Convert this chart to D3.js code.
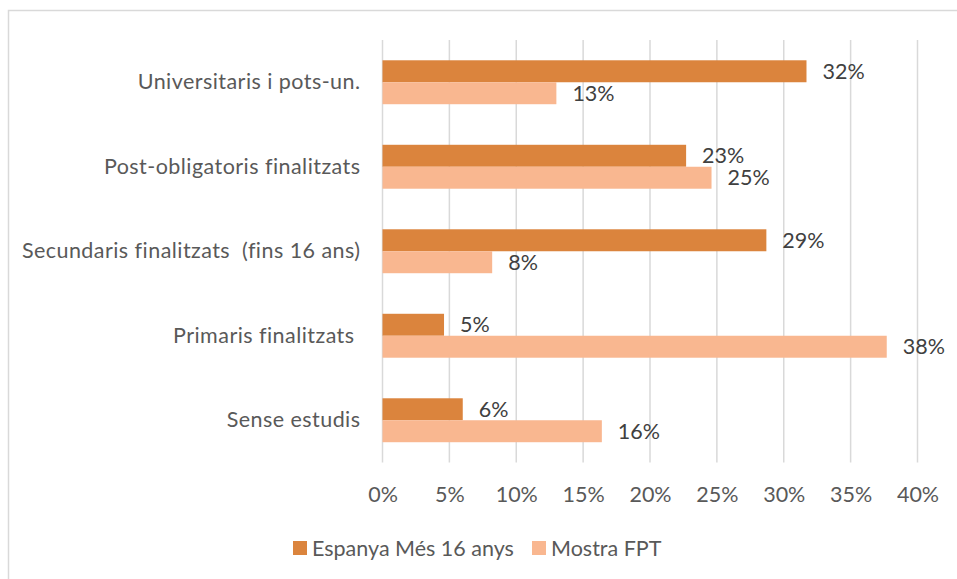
<!DOCTYPE html>
<html lang="ca">
<head>
    <meta charset="UTF-8">
    <title>Nivell d'estudis</title>
    <style type="text/css">
        body { margin: 0; background: #fff; }
        text { font-family: Lato, "Open Sans", sans-serif; white-space: pre; }
    </style>
</head>
<body>

<svg width="957" height="579"></svg>

<script src="https://d3js.org/d3.v7.min.js"></script>

<script>
    // categories, top to bottom
    var categories = ["Universitaris i pots-un.", "Post-obligatoris finalitzats",
        "Secundaris finalitzats  (fins 16 ans)", "Primaris finalitzats ", "Sense estudis"];
    var seriesNames = ["Espanya Més 16 anys", "Mostra FPT"];
    var espanya = [31.7, 22.7, 28.7, 4.6, 6.0];
    var mostra = [13.0, 24.6, 8.2, 37.7, 16.4];
    var ticks = [0, 5, 10, 15, 20, 25, 30, 35, 40];
    var colors = ["#DB843D", "#F9B790"];

    var fontSize = 21.5;

    var svg = d3.select("svg"),
        margin = {top: 40, left: 382.5, right: 39.5, bottom: 116.5},
        width = 957 - margin.left - margin.right,
        height = 579 - margin.top - margin.bottom;

    // chart border (only left/top visible in the frame)
    svg.append("rect")
        .attr("x", 8.5).attr("y", 10.5)
        .attr("width", 1000).attr("height", 1000)
        .attr("fill", "none").attr("stroke", "#D9D9D9").attr("stroke-width", 1.5);

    var g = svg.append("g").attr("transform", "translate(" + margin.left + "," + margin.top + ")");

    var x = d3.scaleLinear().domain([0, 40]).range([0, width]);
    var y = d3.scaleBand().domain(categories).range([0, height])
        .paddingInner(0.48).paddingOuter(0.24);
    var ySub = d3.scaleBand().domain([0, 1]).range([0, y.bandwidth()]);

    // gridlines
    g.selectAll(".grid")
        .data(ticks)
        .enter().append("line")
        .attr("x1", function (d) { return x(d); })
        .attr("x2", function (d) { return x(d); })
        .attr("y1", 0).attr("y2", height)
        .attr("stroke", "#D9D9D9").attr("stroke-width", 1.5);

    // x tick labels
    g.append("g")
        .attr("transform", "translate(0," + height + ")")
        .call(d3.axisBottom(x).tickValues(ticks).tickSize(0).tickPadding(24)
            .tickFormat(function (d) { return d + "%"; }))
        .call(function (a) { a.select(".domain").remove(); })
        .selectAll("text")
        .attr("font-family", "Lato, sans-serif")
        .attr("font-size", fontSize).attr("fill", "#595959");

    // category labels
    g.append("g")
        .call(d3.axisLeft(y).tickSize(0).tickPadding(22))
        .call(function (a) { a.select(".domain").remove(); })
        .selectAll("text")
        .attr("font-family", "Lato, sans-serif")
        .attr("letter-spacing", "0.45px")
        .attr("font-size", fontSize).attr("fill", "#595959");

    var rows = categories.map(function (c, i) {
        return {cat: c, vals: [espanya[i], mostra[i]]};
    });

    var grp = g.selectAll(".cat")
        .data(rows)
        .enter().append("g")
        .attr("transform", function (d) { return "translate(0," + y(d.cat) + ")"; });

    grp.selectAll("rect")
        .data(function (d) { return d.vals; })
        .enter().append("rect")
        .attr("x", 0)
        .attr("y", function (d, i) { return ySub(i); })
        .attr("width", function (d) { return x(d); })
        .attr("height", ySub.bandwidth())
        .attr("fill", function (d, i) { return colors[i]; });

    grp.selectAll(".val")
        .data(function (d) { return d.vals; })
        .enter().append("text")
        .attr("x", function (d) { return x(d) + 16; })
        .attr("y", function (d, i) { return ySub(i) + ySub.bandwidth() / 2; })
        .attr("dy", "0.35em")
        .attr("font-size", fontSize).attr("fill", "#404040")
        .text(function (d) { return Math.round(d) + "%"; });

    // legend
    var legendX = [293, 532];
    var leg = svg.selectAll(".leg")
        .data(seriesNames)
        .enter().append("g")
        .attr("transform", function (d, i) { return "translate(" + legendX[i] + ",541)"; });
    leg.append("rect")
        .attr("width", 14).attr("height", 14)
        .attr("fill", function (d, i) { return colors[i]; });
    leg.append("text")
        .attr("x", 19).attr("y", 7).attr("dy", "0.35em")
        .attr("font-size", fontSize).attr("fill", "#595959")
        .text(function (d) { return d; });
</script>

</body>
</html>
